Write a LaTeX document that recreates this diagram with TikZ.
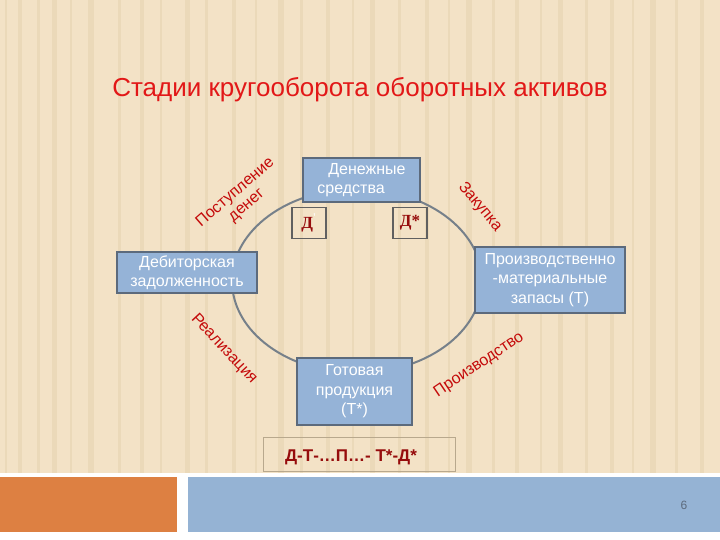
\documentclass[tikz,border=0pt]{standalone}
\usepackage{fontspec}
\setmainfont{Liberation Sans}
\newfontfamily\serifcyr{Liberation Serif}
\usepackage{tikz}

\definecolor{paper}{RGB}{243,226,198}
\definecolor{paperdark}{RGB}{230,210,176}
\definecolor{boxblue}{RGB}{149,179,215}
\definecolor{boxedge}{RGB}{92,106,124}
\definecolor{ringgray}{RGB}{118,128,138}
\definecolor{labelred}{RGB}{196,10,10}
\definecolor{titlered}{RGB}{226,24,24}
\definecolor{dred}{RGB}{150,12,12}
\definecolor{bandorange}{RGB}{221,128,66}
\definecolor{bandblue}{RGB}{149,179,212}

\begin{document}
\begin{tikzpicture}[x=1pt, y=-1pt,
  stripe/.style={paperdark, opacity=0.55},
  stagebox/.style={draw=boxedge, line width=1.4pt, fill=boxblue, text=white, font=\fontsize{16}{19.5}\selectfont, align=center, inner sep=2pt},
  markbox/.style={draw=gray!75!black, line width=1.3pt, minimum width=34, minimum height=31, font=\serifcyr\bfseries\fontsize{17}{17}\selectfont, text=dred},
  steplabel/.style={text=labelred, font=\fontsize{16}{17}\selectfont, align=center, inner sep=0pt},
  ring/.style={draw=ringgray, line width=2pt}]
  \useasboundingbox (0,0) rectangle (720,540);
  % background
  \fill[white] (0,0) rectangle (720,540);
  \fill[paper] (0,0) rectangle (720,473);
  \fill[stripe] (5,0) rectangle ++(2,473);
  \fill[stripe] (18,0) rectangle ++(4,473);
  \fill[stripe] (37,0) rectangle ++(3,473);
  \fill[stripe] (52,0) rectangle ++(5,473);
  \fill[stripe] (70,0) rectangle ++(2,473);
  \fill[stripe] (88,0) rectangle ++(6,473);
  \fill[stripe] (118,0) rectangle ++(3,473);
  \fill[stripe] (140,0) rectangle ++(4,473);
  \fill[stripe] (160,0) rectangle ++(2,473);
  \fill[stripe] (185,0) rectangle ++(5,473);
  \fill[stripe] (205,0) rectangle ++(3,473);
  \fill[stripe] (232,0) rectangle ++(4,473);
  \fill[stripe] (255,0) rectangle ++(2,473);
  \fill[stripe] (278,0) rectangle ++(6,473);
  \fill[stripe] (300,0) rectangle ++(3,473);
  \fill[stripe] (326,0) rectangle ++(4,473);
  \fill[stripe] (352,0) rectangle ++(2,473);
  \fill[stripe] (370,0) rectangle ++(5,473);
  \fill[stripe] (398,0) rectangle ++(3,473);
  \fill[stripe] (425,0) rectangle ++(4,473);
  \fill[stripe] (448,0) rectangle ++(2,473);
  \fill[stripe] (466,0) rectangle ++(6,473);
  \fill[stripe] (492,0) rectangle ++(3,473);
  \fill[stripe] (515,0) rectangle ++(4,473);
  \fill[stripe] (540,0) rectangle ++(2,473);
  \fill[stripe] (558,0) rectangle ++(5,473);
  \fill[stripe] (585,0) rectangle ++(3,473);
  \fill[stripe] (610,0) rectangle ++(4,473);
  \fill[stripe] (632,0) rectangle ++(2,473);
  \fill[stripe] (650,0) rectangle ++(6,473);
  \fill[stripe] (675,0) rectangle ++(3,473);
  \fill[stripe] (700,0) rectangle ++(4,473);
  \fill[bandorange] (0,477) rectangle (177,532);
  \fill[bandblue] (188,477) rectangle (720,532);
  \node[text=boxedge, font=\fontsize{12}{12}\selectfont] (pagenum) at (684,505) {6};

  % title
  \node[text=titlered, font=\fontsize{26}{26}\selectfont] (title) at (360,90) {Стадии кругооборота оборотных активов};

  % cycle
  \draw[ring] (357,281) ellipse [x radius=125, y radius=92];

  % stages
  \node[stagebox, minimum width=117, minimum height=44, align=left] (money) at (361.5,180) {\hspace{11pt}Денежные\\средства};
  \node[stagebox, minimum width=140, minimum height=41] (debt) at (187,272.5) {Дебиторская\\задолженность};
  \node[stagebox, minimum width=150, minimum height=66] (stock) at (550,280) {Производственно\\-материальные\\запасы (Т)};
  \node[stagebox, minimum width=115, minimum height=67] (goods) at (354.5,391.5) {Готовая\\продукция\\(Т*)};
  \node[markbox] (dstart) at (309,223) {Д\textsuperscript{\color{white!85!paper}'}};
  \node[markbox] (dend) at (410,223) {Д*};

  % stage names
  \node[steplabel, rotate=41] (inflow) at (241,199) {Поступление\\денег};
  \node[steplabel, rotate=-50] (purchase) at (480,207) {Закупка};
  \node[steplabel, rotate=-47] (sale) at (224,349) {Реализация};
  \node[steplabel, rotate=34] (production) at (479,365) {Производство};

  % formula
  \draw[paperdark!80!black, line width=0.6pt] (263,437) rectangle (455,471);
  \node[text=dred, font=\bfseries\fontsize{17}{17}\selectfont] (formula) at (351,457) {Д-Т-…П…- Т*-Д*};
\end{tikzpicture}
\end{document}
